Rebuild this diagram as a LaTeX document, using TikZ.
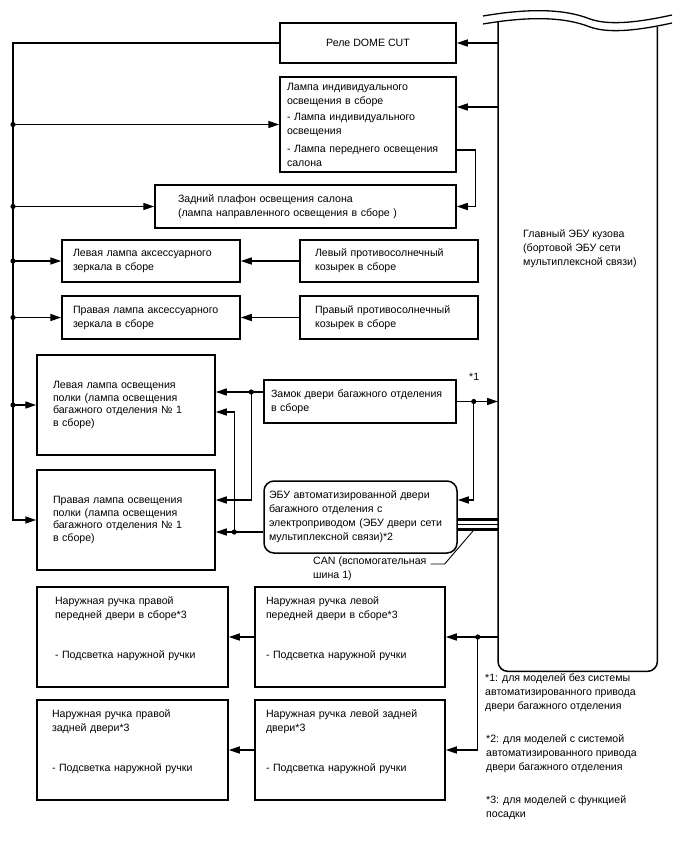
\documentclass[tikz,border=0pt]{standalone}
\usepackage{fontspec}
\setmainfont{Liberation Sans}
\usetikzlibrary{arrows.meta}

\begin{document}
\begin{tikzpicture}[
  x=1pt, y=-1pt,
  font=\fontsize{10.6}{14}\selectfont,
  box/.style={draw, line width=1.5pt, align=left, inner xsep=0pt, inner ysep=0pt},
  shelfbox/.style={box, minimum width=178pt, minimum height=100pt, text width=146pt, font=\fontsize{10.6}{12.4}\selectfont},
  arr/.style={-{Triangle[length=11pt,width=7pt]}, line width=1.4pt},
  wire/.style={line width=1.5pt},
  note/.style={align=left, inner sep=0pt, anchor=north west}
]
  \useasboundingbox (0,0) rectangle (688,852);

  % main body ECU
  \node[minimum width=159pt, minimum height=649pt, anchor=north west, inner sep=0pt] (ecu) at (498,22) {};
  \draw[wire, rounded corners=10pt] (ecu.north west) -- (ecu.south west) -- (ecu.south east) -- ([yshift=-5pt]ecu.north east);
  \foreach \dy in {0,-8}
    \draw[line width=1.3pt, yshift=\dy pt] (483,16) .. controls (530,8) and (565,9) .. (590,19) .. controls (610,26) and (640,22) .. (672,15);
  \node[note] (ecutxt) at (523,229) {Главный ЭБУ кузова\\(бортовой ЭБУ сети\\мультиплексной связи)};

  % lamps
  \node[box, minimum width=176pt, minimum height=40pt, align=center] (dome) at (368,43) {Реле DOME CUT};
  \node[box, minimum width=176pt, minimum height=95pt, text width=162pt] (indiv) at (368,124.5)
    {Лампа индивидуального\\освещения в сборе\\[2pt]- Лампа индивидуального\\освещения\\[4pt]- Лампа переднего освещения\\салона};
  \node[box, minimum width=301pt, minimum height=43pt, text width=255pt] (rear) at (305.5,206.5)
    {Задний плафон освещения салона\\(лампа направленного освещения в сборе )};
  \node[box, minimum width=178pt, minimum height=42pt, text width=156pt] (lmirror) at (151,261)
    {Левая лампа аксессуарного\\зеркала в сборе};
  \node[box, minimum width=178pt, minimum height=42pt, text width=148pt] (lvisor) at (389,261)
    {Левый противосолнечный\\козырек в сборе};
  \node[box, minimum width=178pt, minimum height=43pt, text width=156pt] (rmirror) at (151,317.5)
    {Правая лампа аксессуарного\\зеркала в сборе};
  \node[box, minimum width=178pt, minimum height=43pt, text width=148pt] (rvisor) at (389,317.5)
    {Правый противосолнечный\\козырек в сборе};
  \node[shelfbox] (lshelf) at (126,405)
    {Левая лампа освещения\\полки (лампа освещения\\багажного отделения № 1\\в сборе)};
  \node[shelfbox] (rshelf) at (126,520)
    {Правая лампа освещения\\полки (лампа освещения\\багажного отделения № 1\\в сборе)};

  % tailgate
  \node[box, minimum width=192pt, minimum height=43pt, text width=178pt] (lock) at (360,401.5)
    {Замок двери багажного отделения\\в сборе};
  \node[box, rounded corners=10pt, minimum width=193pt, minimum height=72pt, text width=183pt] (tgecu) at (360.5,517)
    {ЭБУ автоматизированной двери\\багажного отделения с\\электроприводом (ЭБУ двери сети\\мультиплексной связи)*2};

  % door handles
  \node[box, minimum width=191pt, minimum height=100pt, text width=155pt] (rf) at (132.5,637)
    {Наружная ручка правой\\передней двери в сборе*3\\[26pt]- Подсветка наружной ручки\\[4pt]\mbox{}};
  \node[box, minimum width=190pt, minimum height=100pt, text width=168pt] (lf) at (350,637)
    {Наружная ручка левой\\передней двери в сборе*3\\[26pt]- Подсветка наружной ручки\\[4pt]\mbox{}};
  \node[box, minimum width=191pt, minimum height=100pt, text width=161pt] (rr) at (132.5,750)
    {Наружная ручка правой\\задней двери*3\\[26pt]- Подсветка наружной ручки\\[4pt]\mbox{}};
  \node[box, minimum width=190pt, minimum height=100pt, text width=168pt] (lr) at (350,750)
    {Наружная ручка левой задней\\двери*3\\[26pt]- Подсветка наружной ручки\\[4pt]\mbox{}};

  % left bus
  \coordinate (bus) at (13,43);
  \draw[arr] (ecu.west |- dome.east) -- (dome.east);
  \draw[arr] (dome.west) -- (bus) |- (rshelf.west);
  \foreach \n in {indiv,rear,lmirror,rmirror,lshelf} {
    \draw[arr] (bus |- \n.west) -- (\n.west);
    \fill (bus |- \n.west) circle (2.6pt);
  }

  \coordinate (indivin) at ([yshift=17.5pt]indiv.east);
  \draw[arr] (indivin -| ecu.west) -- (indivin);
  \draw[arr] ([yshift=-25.5pt]indiv.east) -- ++(19,0) |- (rear.east);
  \draw[arr] (lvisor) -- (lmirror);
  \draw[arr] (rvisor) -- (rmirror);

  \coordinate (ja) at ([xshift=-12pt,yshift=9.5pt]lock.west);
  \draw[arr] ([yshift=9.5pt]lock.west) -- (ja -| lshelf.east);
  \draw[arr] (ja) |- ([yshift=20pt]rshelf.east);
  \fill (ja) circle (2.6pt);
  \coordinate (jb) at ([xshift=17pt]lock.east);
  \draw[arr] (lock.east) -- (lock.east -| ecu.west);
  \draw[arr] (jb) |- ([yshift=17pt]tgecu.east);
  \fill (jb) circle (2.6pt);
  \node[note] (n1) at (469,373) {*1};
  \coordinate (jc) at ([xshift=-29pt,yshift=-15pt]tgecu.west);
  \draw[arr] ([yshift=-15pt]tgecu.west) -- (jc -| rshelf.east);
  \draw[arr] (jc) |- ([yshift=-7pt]lshelf.east);
  \fill (jc) circle (2.6pt);

  % CAN
  \foreach \dy/\w in {-2.5/2.2pt,-7.5/1.2pt,-12.5/2.2pt} {
    \coordinate (c) at ([yshift=\dy pt]tgecu.east);
    \draw[line width=\w] (c) -- (c -| ecu.west);
  }
  \node[note] (canlbl) at (313,557) {CAN (вспомогательная\\шина 1)};
  \coordinate (canpt) at (473,531);
  \draw[line width=0.9pt] ([xshift=4pt,yshift=-7pt]canlbl.north east) -- ++(14,0) -- (canpt);

  \coordinate (jd) at ([xshift=32pt]lf.east);
  \draw[arr] (lf.east -| ecu.west) -- (lf.east);
  \draw[arr] (jd) |- (lr.east);
  \fill (jd) circle (2.6pt);
  \draw[arr] (lf) -- (rf);
  \draw[arr] (lr) -- (rr);

  % notes
  \node[note] (fn1) at (485,673) {*1: для моделей без системы\\автоматизированного привода\\двери багажного отделения};
  \node[note] (fn2) at (486,734) {*2: для моделей с системой\\автоматизированного привода\\двери багажного отделения};
  \node[note] (fn3) at (486,795) {*3: для моделей с функцией\\посадки};
\end{tikzpicture}
\end{document}
